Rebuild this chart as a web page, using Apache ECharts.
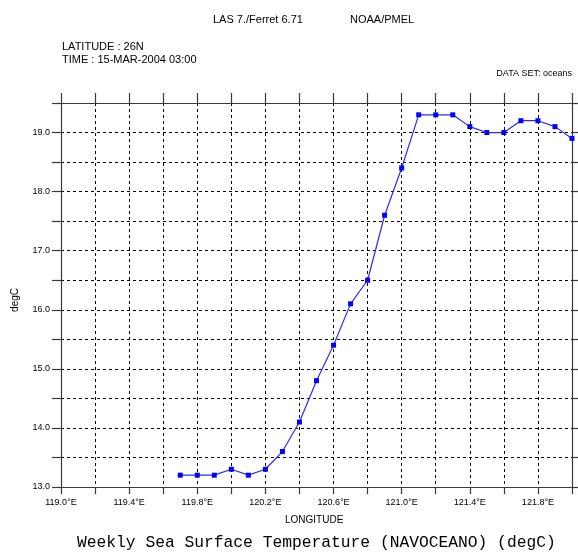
<!DOCTYPE html>
<html>
<head>
<meta charset="utf-8">
<script src="https://cdn.jsdelivr.net/npm/echarts@6/dist/echarts.min.js"></script>
<style>
  html, body { margin: 0; padding: 0; background: #fff; }
  #chart { width: 578px; height: 554px; }
</style>
</head>
<body>
<div id="chart"></div>
<script>
// Sea surface temperature along latitude 26N, 15-MAR-2004
const longitudes = [119.7, 119.8, 119.9, 120.0, 120.1, 120.2, 120.3, 120.4, 120.5, 120.6,
                    120.7, 120.8, 120.9, 121.0, 121.1, 121.2, 121.3, 121.4, 121.5, 121.6,
                    121.7, 121.8, 121.9, 122.0];
const sst = [13.2, 13.2, 13.2, 13.3, 13.2, 13.3, 13.6, 14.1, 14.8, 15.4,
             16.1, 16.5, 17.6, 18.4, 19.3, 19.3, 19.3, 19.1, 19.0, 19.0,
             19.2, 19.2, 19.1, 18.9];
const xTickLabels = ['119.0°E', '119.4°E', '119.8°E', '120.2°E', '120.6°E', '121.0°E', '121.4°E', '121.8°E'];
const yTickLabels = ['13.0', '14.0', '15.0', '16.0', '17.0', '18.0', '19.0'];

const X_MIN = 119.0, X_MAX = 122.0, X_STEP = 0.2;
const Y_MIN = 13.0, Y_MAX = 19.5, Y_STEP = 0.5;

const font = 'Liberation Sans, Arial, sans-serif';
const axisColor = '#3a3a3a';
const dash = { color: '#000', width: 1, type: [3, 3] };

function xLabel(v) {
  const k = Math.round((v - X_MIN) / X_STEP);
  return k % 2 === 0 ? (xTickLabels[k / 2] || '') : '';
}
function yLabel(v) {
  const k = Math.round((v - Y_MIN) / Y_STEP);
  return k % 2 === 0 ? (yTickLabels[k / 2] || '') : '';
}

const chart = echarts.init(document.getElementById('chart'), null, { renderer: 'canvas' });
chart.setOption({
  animation: false,
  backgroundColor: '#fff',
  textStyle: { fontFamily: font },
  graphic: [
    { type: 'text', left: 213, top: 14, style: { text: 'LAS 7./Ferret 6.71', font: '11px ' + font, fill: '#000' } },
    { type: 'text', left: 350, top: 14, style: { text: 'NOAA/PMEL', font: '11px ' + font, fill: '#000' } },
    { type: 'text', left: 62, top: 41, style: { text: 'LATITUDE : 26N', font: '11px ' + font, fill: '#000' } },
    { type: 'text', left: 62, top: 54, style: { text: 'TIME : 15-MAR-2004 03:00', font: '11px ' + font, fill: '#000' } },
    { type: 'text', right: 6, top: 69, style: { text: 'DATA SET: oceans', font: '9px ' + font, fill: '#000' } },
    { type: 'text', left: 285, top: 515, style: { text: 'LONGITUDE', font: '10px ' + font, fill: '#000' } },
    { type: 'text', left: 10, top: 288, rotation: Math.PI / 2,
      style: { text: 'degC', font: '10px ' + font, fill: '#000' } },
    { type: 'text', left: 77, top: 535,
      style: { text: 'Weekly Sea Surface Temperature (NAVOCEANO) (degC)', font: '16.3px Liberation Mono, Courier New, monospace', fill: '#000' } }
  ],
  grid: { left: 61, right: 6, top: 103, bottom: 67, containLabel: false },
  xAxis: [
    {
      type: 'value', position: 'bottom', min: X_MIN, max: X_MAX, interval: X_STEP,
      axisLine: { show: true, onZero: false, lineStyle: { color: axisColor, width: 1.2 } },
      axisTick: { show: true, inside: false, length: 7, lineStyle: { color: axisColor, width: 1.2 } },
      axisLabel: { formatter: xLabel, fontSize: 9, color: '#000', margin: 11, fontFamily: font, showMinLabel: true, showMaxLabel: true },
      splitLine: { show: true, lineStyle: dash }
    },
    {
      type: 'value', position: 'top', min: X_MIN, max: X_MAX, interval: X_STEP,
      axisLine: { show: true, onZero: false, lineStyle: { color: axisColor, width: 1.2 } },
      axisTick: { show: true, inside: false, length: 10, lineStyle: { color: axisColor, width: 1.2 } },
      axisLabel: { show: false },
      splitLine: { show: false }
    }
  ],
  yAxis: [
    {
      type: 'value', position: 'left', min: Y_MIN, max: Y_MAX, interval: Y_STEP,
      axisLine: { show: true, onZero: false, lineStyle: { color: axisColor, width: 1.2 } },
      axisTick: { show: true, inside: false, length: 9, lineStyle: { color: axisColor, width: 1.2 } },
      axisLabel: { formatter: yLabel, fontSize: 9, color: '#000', margin: 11, fontFamily: font, showMinLabel: true, showMaxLabel: true },
      splitLine: { show: true, lineStyle: dash }
    },
    {
      type: 'value', position: 'right', min: Y_MIN, max: Y_MAX, interval: Y_STEP,
      axisLine: { show: true, onZero: false, lineStyle: { color: axisColor, width: 1.2 } },
      axisTick: { show: true, inside: false, length: 9, lineStyle: { color: axisColor, width: 1.2 } },
      axisLabel: { show: false },
      splitLine: { show: false }
    }
  ],
  series: [{
    type: 'line',
    xAxisIndex: 0, yAxisIndex: 0,
    data: longitudes.map((lon, i) => [lon, sst[i]]),
    symbol: 'rect', symbolSize: 5, showSymbol: true,
    itemStyle: { color: '#0000ff' },
    lineStyle: { color: '#2b2bff', width: 1.2 },
    clip: false
  }]
});
</script>
</body>
</html>
